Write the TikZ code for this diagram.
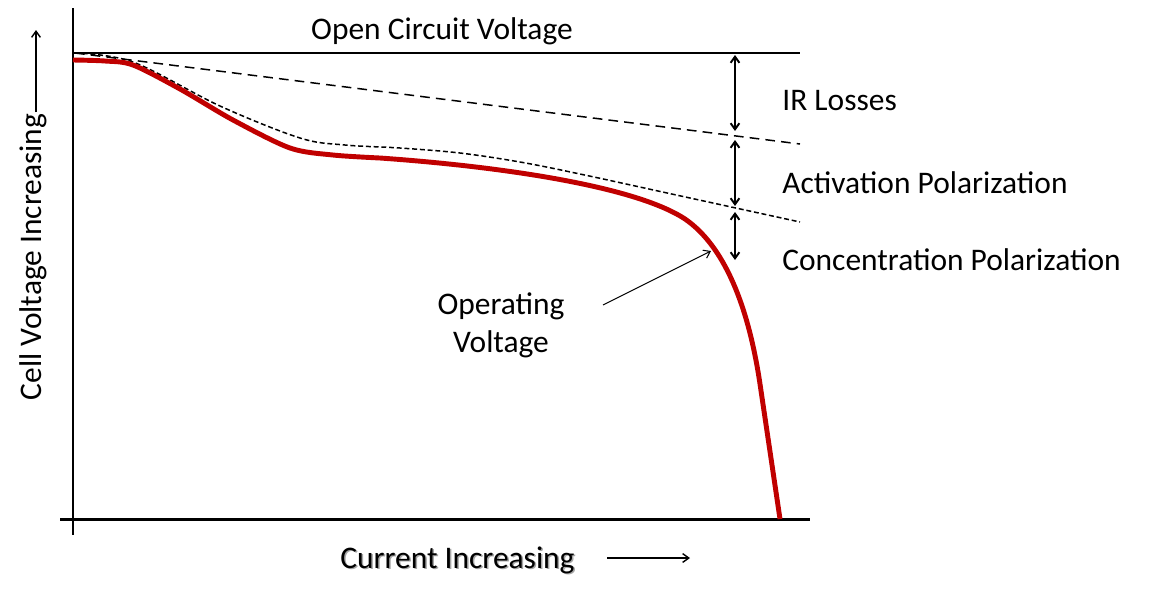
\documentclass[tikz,border=0pt]{standalone}
\usepackage{fontspec}
\setmainfont{Carlito}
\usetikzlibrary{arrows.meta}
\definecolor{curvered}{RGB}{192,0,0}
\begin{document}
\begin{tikzpicture}[x=0.02cm,y=-0.02cm,
  lbl/.style={font=\fontsize{17.9}{21.5}\selectfont, inner sep=0, text=black},
  axisline/.style={line width=1.5pt, black},
  refline/.style={line width=0.85pt, black},
  irline/.style={line width=0.85pt, black, dash pattern=on 5.5pt off 3.5pt},
  actline/.style={line width=0.85pt, black, dash pattern=on 2.8pt off 1.6pt},
  redcurve/.style={line width=2.8pt, curvered, line join=round},
  dimarrow/.style={line width=1.1pt, {Straight Barb[length=3.5pt,width=5pt]}-{Straight Barb[length=3.5pt,width=5pt]}},
  pointer/.style={line width=0.6pt, -{Straight Barb[length=3.5pt,width=5pt]}},
  axisarrow/.style={line width=0.8pt, -{Straight Barb[length=3.5pt,width=5pt]}}]
\useasboundingbox (0,0) rectangle (1163,600);
% axes
\coordinate (ytop) at (73,8);
\coordinate (ybot) at (73,535);
\coordinate (xleft) at (60,519);
\coordinate (xright) at (810,519);
\draw[axisline] (ytop) -- (ybot);
\draw[axisline, line width=1.7pt] (xleft) -- (xright);
% open circuit voltage line
\coordinate (ocvL) at (73,53);
\coordinate (ocvR) at (800,53);
\draw[refline] (ocvL) -- (ocvR);
\node[lbl, anchor=base] (ocv) at (442,39) {Open Circuit Voltage};
% IR losses line
\coordinate (irL) at (75,53);
\coordinate (irR) at (800,144);
\draw[irline] (irL) -- (irR);
% activation line
\draw[actline] plot[smooth, tension=0.55] coordinates {(75,53) (133,62) (220,106) (300,138) (345,145) (400,148) (460,153) (520,162) (580,174) (690,198) (800,222)};
% operating curve
\draw[redcurve] plot[smooth, tension=0.5] coordinates {(73,60) (105,61) (133,65) (180,89) (233,120) (290,148) (333,155) (380,158)}
  .. controls (500.5,166.5) and (635,186) .. (685,219)
  .. controls (723,245) and (747.9,302.7) .. (760,384)
  -- (780,519);
% dimension arrows
\coordinate (ir1) at (735,55);
\coordinate (ir2) at (735,131);
\coordinate (ac1) at (735,140);
\coordinate (ac2) at (735,206);
\coordinate (co1) at (735,212);
\coordinate (co2) at (735,260);
\draw[dimarrow] (ir1) -- (ir2);
\draw[dimarrow] (ac1) -- (ac2);
\draw[dimarrow] (co1) -- (co2);
\node[lbl, anchor=base west] (irl) at (782,110) {IR Losses};
\node[lbl, anchor=base west] (acl) at (782,193) {Activation Polarization};
\node[lbl, anchor=base west] (col) at (782,270) {Concentration Polarization};
% operating voltage
\node[lbl, anchor=base, align=center] (opv) at (501,352) {Operating\\Voltage};
\coordinate (optip) at (711,251);
\coordinate (opstart) at (603,305);
\draw[pointer] (opstart) -- (optip);
% axis labels
\node[lbl, rotate=90] (ylab) at (33,257) {Cell Voltage Increasing};
\coordinate (ya1) at (36,112);
\coordinate (ya2) at (36,30);
\draw[axisarrow] (ya1) -- (ya2);
\node[lbl, anchor=base west, text=black!35] (xlabsh) at (341.5,569.5) {Current Increasing};
\node[lbl, anchor=base west] (xlab) at (340,568) {Current Increasing};
\coordinate (xa1) at (607,558);
\coordinate (xa2) at (690,558);
\draw[axisarrow] (xa1) -- (xa2);
\end{tikzpicture}
\end{document}
